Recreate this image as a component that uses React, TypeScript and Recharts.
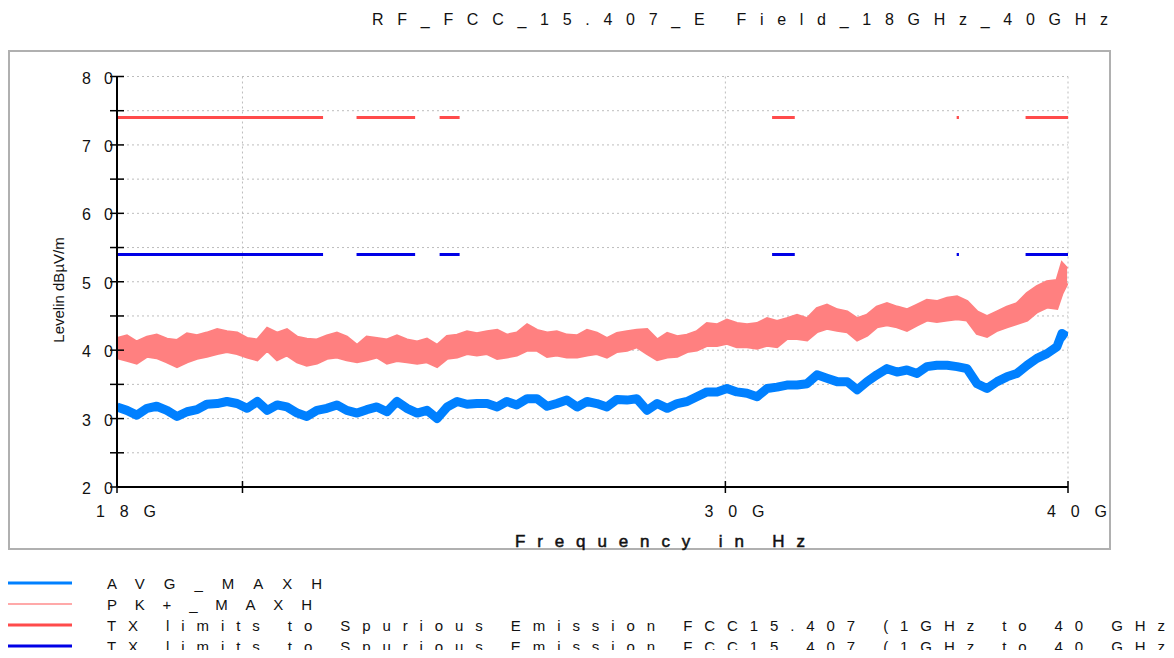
import React from 'react';
import { ComposedChart, Area, Line, XAxis, YAxis, CartesianGrid } from 'recharts';

// frequency in GHz, log spaced across the sweep
const freqGHz = [
  18.0, 18.15, 18.3, 18.46, 18.61, 18.77, 18.93, 19.09, 19.25, 19.41,
  19.58, 19.74, 19.91, 20.08, 20.25, 20.42, 20.59, 20.76, 20.94, 21.11,
  21.29, 21.47, 21.65, 21.83, 22.02, 22.2, 22.39, 22.58, 22.77, 22.96,
  23.16, 23.35, 23.55, 23.75, 23.95, 24.15, 24.35, 24.56, 24.77, 24.97,
  25.18, 25.4, 25.61, 25.83, 26.04, 26.26, 26.49, 26.71, 26.93, 27.16,
  27.39, 27.62, 27.85, 28.09, 28.33, 28.57, 28.81, 29.05, 29.29, 29.54,
  29.79, 30.04, 30.29, 30.55, 30.81, 31.07, 31.33, 31.59, 31.86, 32.13,
  32.4, 32.67, 32.95, 33.23, 33.51, 33.79, 34.07, 34.36, 34.65, 34.94,
  35.24, 35.53, 35.83, 36.14, 36.44, 36.75, 37.06, 37.37, 37.69, 38.0,
  38.32, 38.65, 38.97, 39.3, 39.63, 39.8, 39.97,
];

// PK+_MAXH trace, upper and lower edge of the noise band (dBµV/m)
const pkHigh = [
  41.7, 42.1, 41.2, 41.9, 42.2, 41.6, 41.4, 42.4, 42.1, 42.5, 43.0, 42.7, 42.5, 41.7, 41.5, 43.2, 42.5, 43.0, 41.9, 41.6, 41.5, 42.1, 42.5, 41.9,
  40.7, 41.9, 41.7, 41.5, 42.1, 41.5, 41.2, 41.6, 40.7, 42.0, 42.2, 42.7, 42.4, 42.7, 42.9, 42.2, 42.5, 43.7, 42.9, 42.5, 42.7, 42.2, 42.1, 42.9, 42.5,
  41.7, 42.45, 42.7, 42.9, 43.0, 41.5, 42.45, 41.96, 42.2, 42.7, 43.9, 43.7, 44.4, 43.9, 43.7, 43.9, 44.6, 44.2, 44.6, 45.1, 44.6, 46.1, 46.6, 45.9,
  45.6, 44.6, 45.1, 46.3, 46.8, 46.3, 45.9, 46.6, 47.3, 47.1, 47.6, 47.8, 47.1, 45.6, 44.9, 45.6, 46.3, 46.8, 48.3, 49.3, 50.0, 50.2, 52.7, 51.9,
];
const pkLow = [
  38.9, 38.5, 38.1, 39.1, 38.9, 38.3, 37.6, 38.3, 38.8, 39.1, 39.5, 39.8, 39.5, 39.0, 38.6, 40.0, 38.6, 39.3, 38.3, 37.8, 38.1, 38.8, 39.0, 38.6,
  38.3, 38.6, 39.0, 38.1, 38.5, 38.3, 38.1, 38.3, 37.6, 38.8, 39.0, 39.5, 39.3, 39.5, 38.8, 39.0, 39.3, 40.0, 40.0, 39.1, 39.3, 39.0, 39.0, 39.3, 39.5,
  39.0, 39.8, 40.0, 40.5, 39.5, 38.6, 39.0, 39.1, 39.8, 40.0, 40.7, 40.7, 41.0, 40.5, 40.5, 40.3, 40.7, 40.5, 41.7, 41.7, 41.5, 42.7, 43.2, 42.9,
  42.7, 41.5, 42.2, 43.4, 43.7, 43.4, 42.9, 43.7, 44.4, 44.2, 44.4, 44.6, 44.4, 42.45, 42.0, 42.9, 43.4, 43.9, 44.4, 45.6, 46.3, 46.1, 48.3, 49.8,
];

// AVG_MAXH trace
const avgMaxh = [
  31.7, 31.2, 30.5, 31.5, 31.8, 31.2, 30.3, 31.0, 31.3, 32.1, 32.2, 32.5, 32.2, 31.5, 32.5, 31.2, 32.0, 31.7, 30.8, 30.3, 31.2, 31.5, 32.0, 31.2,
  30.8, 31.3, 31.7, 31.0, 32.5, 31.5, 30.8, 31.2, 30.0, 31.7, 32.5, 32.1, 32.2, 32.2, 31.7, 32.5, 32.0, 32.9, 32.9, 31.8, 32.2, 32.7, 31.7, 32.5, 32.2,
  31.7, 32.8, 32.7, 32.9, 31.2, 32.2, 31.5, 32.2, 32.5, 33.2, 33.9, 33.9, 34.4, 33.9, 33.7, 33.2, 34.4, 34.6, 34.9, 34.9, 35.1, 36.4, 35.9, 35.4,
  35.4, 34.2, 35.4, 36.4, 37.3, 36.8, 37.1, 36.6, 37.6, 37.8, 37.8, 37.6, 37.3, 35.1, 34.4, 35.4, 36.1, 36.6, 37.8, 38.8, 39.5, 40.5, 42.45, 41.96,
];

// restricted bands where the limits apply (GHz)
const limitBands = [
  [18, 21.4], [22.01, 23.12], [23.6, 24.0], [31.2, 31.8], [36.43, 36.5], [38.6, 40],
];
const pkLimit = 74;
const avgLimit = 54;

const xTicks = [18, 20, 30, 40];
const xTickLabels: Record<number, string> = { 18: '18G', 30: '30G', 40: '40G' };
const yTicks = [20, 25, 30, 35, 40, 45, 50, 55, 60, 65, 70, 75, 80];

const legendItems = [
  { name: 'AVG_MAXH', color: '#0080FF', width: 3, len: 215 },
  { name: 'PK+_MAXH', color: '#FF8C8C', width: 1.5, len: 205 },
  { name: 'TX limits to Spurious Emission FCC15.407 (1GHz to 40 GHz', color: '#FF4B4B', width: 3, len: 1058 },
  { name: 'TX limits to Spurious Emission FCC15.407 (1GHz to 40 GHz', color: '#0000E6', width: 3, len: 1058 },
];

const FONT = '"Liberation Sans", Arial, sans-serif';

const rows = freqGHz.map((f, i) => ({ f, pk: [pkLow[i], pkHigh[i]], avg: avgMaxh[i] }));

function limitRows(level: number) {
  const out: { f: number; v: number | null }[] = [];
  limitBands.forEach(([a, b], i) => {
    out.push({ f: a, v: level }, { f: b, v: level });
    if (i < limitBands.length - 1) out.push({ f: (b + limitBands[i + 1][0]) / 2, v: null });
  });
  return out;
}

const XTick = (props: any) => {
  const { x, y, payload } = props;
  const label = xTickLabels[payload.value];
  return (
    <g>
      <line x1={x} x2={x} y1={y - 6} y2={y + 6} stroke="#000" strokeWidth={1.5} />
      {label && (
        <text x={x - 21} y={y + 30} fontSize={16} fontFamily={FONT} fill="#111"
          textLength={60} lengthAdjust="spacing">{label}</text>
      )}
    </g>
  );
};

const YTick = (props: any) => {
  const { x, y, payload } = props;
  const v = payload.value;
  return (
    <g>
      <line x1={x - 7} x2={x + 7} y1={y} y2={y} stroke="#000" strokeWidth={1.5} />
      {v % 10 === 0 && (
        <text x={x - 35} y={y + 7} fontSize={16} fontFamily={FONT} fill="#111"
          textLength={31} lengthAdjust="spacing">{String(v)}</text>
      )}
    </g>
  );
};

export default function App() {
  return (
    <div style={{ position: 'relative', width: 1158, height: 642, fontFamily: FONT }}>
      <div style={{ position: 'absolute', left: 0, top: 42 }}>
        <ComposedChart width={1103} height={500} data={rows}
          margin={{ top: 26.5, right: 43, bottom: 0, left: 0 }}>
          <CartesianGrid stroke="#bdbdbd" strokeDasharray="2 3" />
          <XAxis dataKey="f" type="number" scale="log" domain={[18, 40]} ticks={xTicks}
            allowDataOverflow height={63} tickSize={0} tickMargin={0} tickLine={false}
            axisLine={{ stroke: '#000', strokeWidth: 2 }} tick={<XTick />} />
          <YAxis type="number" domain={[20, 80]} ticks={yTicks} width={109}
            tickSize={0} tickMargin={0} tickLine={false}
            axisLine={{ stroke: '#000', strokeWidth: 2 }} tick={<YTick />} />
          <Area dataKey="pk" type="linear" stroke="#FF8080" strokeWidth={3} fill="#FF8080"
            fillOpacity={1} dot={false} activeDot={false} isAnimationActive={false} />
          <Line dataKey="avg" type="linear" stroke="#0080FF" strokeWidth={9} strokeLinejoin="round"
            dot={false} activeDot={false} isAnimationActive={false} />
          <Line data={limitRows(pkLimit)} dataKey="v" type="linear" stroke="#FF4B4B" strokeWidth={3}
            dot={false} activeDot={false} isAnimationActive={false} />
          <Line data={limitRows(avgLimit)} dataKey="v" type="linear" stroke="#0000E6" strokeWidth={3}
            dot={false} activeDot={false} isAnimationActive={false} />
        </ComposedChart>
      </div>
      <svg width={1174} height={658} style={{ position: 'absolute', left: -8, top: -8, pointerEvents: 'none' }}>
        <rect x={9} y={51} width={1101} height={498} fill="none" stroke="#b0b0b0" strokeWidth={2} />
        <text x={372} y={25} fontSize={16} fontFamily={FONT} fill="#111" textLength={736}
          lengthAdjust="spacing">RF_FCC_15.407_E Field_18GHz_40GHz</text>
        <text x={515} y={547} fontSize={17} fontFamily={FONT} fill="#111" stroke="#111" strokeWidth={0.5}
          textLength={290} lengthAdjust="spacing">Frequency in Hz</text>
        <text x={0} y={0} fontSize={15} fontFamily={FONT} fill="#111" textAnchor="middle"
          transform="translate(64 290) rotate(-90)">Levelin dBµV/m</text>
        {legendItems.map((it, i) => {
          const y = 583 + i * 21;
          return (
            <g key={i}>
              <line x1={8} x2={72} y1={y} y2={y} stroke={it.color} strokeWidth={it.width} />
              <text x={107} y={y + 6} fontSize={15} fontFamily={FONT} fill="#111"
                textLength={it.len} lengthAdjust="spacing">{it.name}</text>
            </g>
          );
        })}
      </svg>
    </div>
  );
}
